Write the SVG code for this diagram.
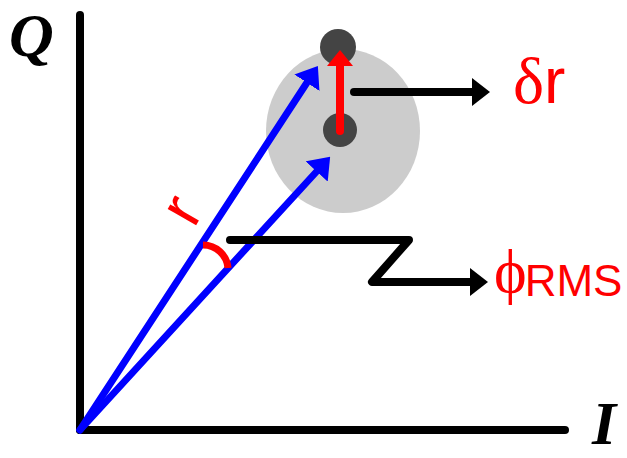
<svg xmlns="http://www.w3.org/2000/svg" width="627" height="458" viewBox="0 0 627 458">
<style>
.ax{stroke:#000;stroke-width:8;stroke-linecap:round;fill:none}
.bk{stroke:#000;stroke-width:8;stroke-linecap:round;stroke-linejoin:round;fill:none}
.bl{stroke:#0000ff;stroke-width:7;stroke-linecap:round;fill:none}
.rd{stroke:#ff0000;stroke-width:8;stroke-linecap:round;fill:none}
.axl{font-family:"Liberation Serif",serif;font-weight:bold;font-style:italic;fill:#000}
.lab{font-family:"Liberation Sans",sans-serif;fill:#ff0000}
.sym{font-family:"Liberation Serif",serif;fill:#ff0000}
</style>
<defs>
<marker id="ab" markerUnits="userSpaceOnUse" viewBox="0 0 20 30" markerWidth="20" markerHeight="30" refX="2" refY="15" orient="auto"><path d="M0,0L20,15L0,30z" fill="#0000ff"/></marker>
<marker id="ar" markerUnits="userSpaceOnUse" viewBox="0 0 16 26" markerWidth="16" markerHeight="26" refX="2" refY="13" orient="auto"><path d="M0,0L16,13L0,26z" fill="#ff0000"/></marker>
<marker id="ak" markerUnits="userSpaceOnUse" viewBox="0 0 18 28" markerWidth="18" markerHeight="28" refX="2" refY="14" orient="auto"><path d="M0,0L18,14L0,28z" fill="#000"/></marker>
</defs>
<g id="cloud">
<ellipse cx="343" cy="131" rx="77" ry="82" fill="#cccccc"/>
<circle cx="338" cy="47" r="18" fill="#444444"/>
<circle cx="340" cy="130" r="17" fill="#444444"/>
</g>
<g id="axes">
<line class="ax" x1="80" y1="15" x2="80" y2="430"/>
<line class="ax" x1="80" y1="430" x2="565" y2="430"/>
<text class="axl" x="9" y="56" font-size="62">Q</text>
<text class="axl" x="592" y="444" font-size="62">I</text>
</g>
<g id="connectors">
<line class="bl" x1="80" y1="430" x2="308" y2="81" marker-end="url(#ab)"/>
<line class="bl" x1="80" y1="430" x2="318" y2="170" marker-end="url(#ab)"/>
<line class="rd" x1="340" y1="131" x2="340" y2="64" marker-end="url(#ar)"/>
<path d="M203,245 A25,25 0 0 1 228,268" stroke="#ff0000" stroke-width="7" fill="none"/>
<line class="bk" x1="354" y1="92" x2="474" y2="92" marker-end="url(#ak)"/>
<path class="bk" d="M230,240 L409,240 L372,282 L472,282" marker-end="url(#ak)"/>
</g>
<g id="labels">
<text class="lab" x="0" y="0" font-size="62" transform="translate(194,229) rotate(-60)">r</text>
<text class="sym" x="513" y="103" font-size="66">δ<tspan class="lab" font-size="64">r</tspan></text>
<text class="sym" x="494" y="292" font-size="62">ϕ<tspan class="lab" font-size="44" dy="4" dx="-2">RMS</tspan></text>
</g>
</svg>
